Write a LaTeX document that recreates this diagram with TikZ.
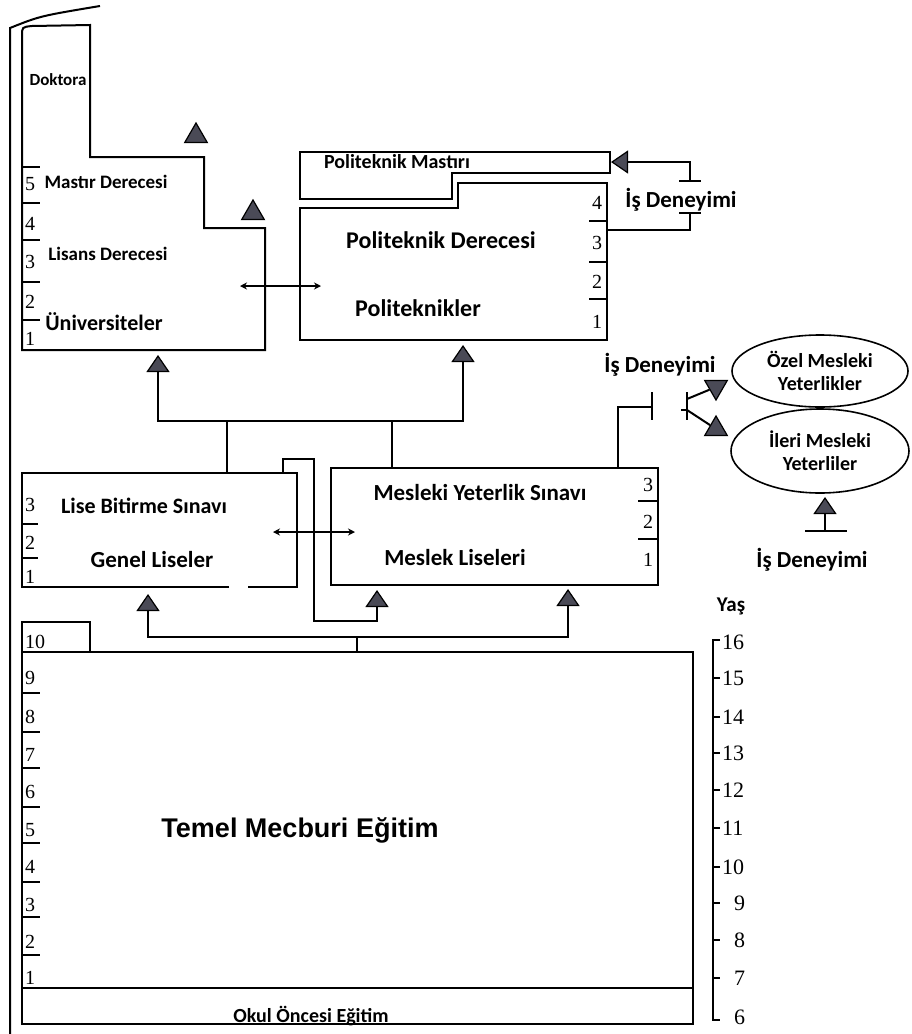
\documentclass[tikz,border=0pt]{standalone}
\usepackage{fontspec}
\setmainfont{Carlito}
\newfontfamily\numfont{Liberation Serif}
\newfontfamily\headfont{Liberation Sans}
\usepackage{tikz}
\usetikzlibrary{positioning, arrows.meta, calc, shapes.geometric}
\definecolor{trigray}{RGB}{74,74,86}
\tikzset{
  wire/.style ={line width=2pt},
  line/.style ={line width=2pt,
                -{Triangle[length=17pt, width=23pt, fill=trigray, line width=1.2pt]}},
  both/.style ={line width=1.6pt,
                {Stealth[length=7pt, width=7pt]}-{Stealth[length=7pt, width=7pt]}},
  tri/.style  ={draw, line width=1.2pt, fill=trigray, regular polygon,
                regular polygon sides=3, minimum size=26pt, inner sep=0pt},
  lbl/.style  ={font=\bfseries\fontsize{23}{25}\selectfont, inner sep=0pt},
  sml/.style  ={font=\bfseries\fontsize{19}{21}\selectfont, inner sep=0pt},
  num/.style  ={font=\numfont\fontsize{20}{21}\selectfont, inner sep=0pt},
  oval/.style ={draw, line width=1.6pt, ellipse, inner sep=0pt, align=center,
                font=\bfseries\fontsize{20}{23}\selectfont}
}

\begin{document}
\begin{tikzpicture}[x=1pt, y=-1pt]
  \useasboundingbox (0,0) rectangle (911,1034);
  \draw[wire] (10,1034) -- (10,28) .. controls (40,16) .. (100,6);

  % universities
  \draw[wire] (22,350) -- (22,36) .. controls (22,27) .. (32,26) -- (90,25)
        -- (90,157) -- (204,157) -- (204,228) -- (265,228) -- (265,350) -- cycle;
  \foreach \y in {167,203,240,282,320} \draw[wire] (22,\y) -- (40,\y);
  \foreach \n/\y in {5/184,4/224,3/262,2/302,1/339}
    \node[num] (u\n) at (30,\y) {\n};
  \node[sml, font=\bfseries\fontsize{17}{19}\selectfont] (dok) at (58,80) {Doktora};
  \node[sml] (mas) at (106,182) {Mastır Derecesi};
  \node[sml] (lis) at (108,254) {Lisans Derecesi};
  \node[lbl, font=\bfseries\fontsize{22}{24}\selectfont] (uni) at (104,322) {Üniversiteler};
  \node[tri] (t1) at (196,136) {};
  \node[tri] (t2) at (253,213) {};

  % polytechnics
  \draw[wire] (300,152) -- (610,152) -- (610,173) -- (452,173) -- (452,199)
        -- (300,199) -- cycle;
  \draw[wire] (300,208) -- (458,208) -- (458,183) -- (607,183) -- (607,340)
        -- (300,340) -- cycle;
  \foreach \y in {221,262,299} \draw[wire] (589,\y) -- (607,\y);
  \foreach \n/\y in {4/203,3/243,2/282,1/322}
    \node[num] (p\n) at (597,\y) {\n};
  \node[sml, font=\bfseries\fontsize{20}{22}\selectfont] (pmas) at (397,162) {Politeknik Mastırı};
  \node[lbl, font=\bfseries\fontsize{24}{26}\selectfont] (pder) at (441,240) {Politeknik Derecesi};
  \node[lbl, font=\bfseries\fontsize{24}{26}\selectfont] (pnik) at (418,308) {Politeknikler};

  \coordinate (uniR) at (240,286);
  \coordinate (polL) at (321,286);
  \draw[both] (uniR) -- (polL);

  \node[lbl] (is1) at (681,200) {İş Deneyimi};
  \coordinate (bar1) at (690,181);
  \coordinate (bar2) at (690,213);
  \coordinate (masR) at (611,162);
  \coordinate (derR) at (607,230);
  \draw[wire] (679,181) -- (701,181);
  \draw[wire] (679,213) -- (701,213);
  \draw[line] (bar1) |- (masR);
  \draw[wire] (bar2) |- (derR);

  % high schools
  \draw[wire] (229,587) -- (22,587) -- (22,473) -- (297,473) -- (297,587) -- (248,587);
  \node[draw, wire, minimum width=327pt, minimum height=117pt, inner sep=0pt]
        (mes) at (494.5,526.5) {};
  \foreach \y in {524,558} \draw[wire] (22,\y) -- (38,\y);
  \foreach \n/\y in {3/505,2/543,1/577}
    \node[num] (g\n) at (30,\y) {\n};
  \foreach \y in {501,539} \draw[wire] (638,\y) -- (658,\y);
  \foreach \n/\y in {3/485,2/522,1/560}
    \node[num] (m\n) at (648,\y) {\n};
  \node[lbl, font=\bfseries\fontsize{22}{24}\selectfont] (lise) at (144,506) {Lise Bitirme Sınavı};
  \node[lbl] (genel) at (152,560) {Genel Liseler};
  \node[lbl] (myet) at (480,493) {Mesleki Yeterlik Sınavı};
  \node[lbl] (mlis) at (455,558) {Meslek Liseleri};

  \coordinate (genR) at (273,532);
  \coordinate (mesL) at (355,532);
  \draw[both] (genR) -- (mesL);

  \coordinate (genT) at (227,473);
  \coordinate (hub1) at (227,421);
  \coordinate (uniB) at (158,355);
  \coordinate (polB) at (463,345);
  \draw[wire] (genT) -- (hub1);
  \draw[wire] (mes.north -| 392,0) -- (392,421);
  \draw[line] (hub1) -| (uniB);
  \draw[line] (hub1) -| (polB);

  \coordinate (loop) at (283,473);
  \coordinate (mesB1) at (377,590);
  \draw[line] (loop) -- (283,459) -- (314,459) -- (314,621) -| (mesB1);

  % compulsory education
  \draw[wire] (22,622) rectangle (90,652);
  \draw[wire] (22,652) -- (693,652) -- (693,1024) -- (22,1024) -- cycle;
  \draw[wire] (22,988) -- (693,988);
  \foreach \y in {693,732,768,807,843,882,917,955} \draw[wire] (22,\y) -- (40,\y);
  \foreach \n/\y in {10/642,9/678,8/717,7/755,6/792,5/830,4/867,3/905,2/942,1/978}
    \node[num, anchor=west] (k\n) at (25,\y) {\n};
  \node[font=\headfont\bfseries\fontsize{27}{29}\selectfont, inner sep=0pt]
        (temel) at (300,830) {Temel Mecburi Eğitim};
  \node[sml, font=\bfseries\fontsize{20}{22}\selectfont] (okul) at (311,1016) {Okul Öncesi Eğitim};

  \coordinate (temT) at (357,652);
  \coordinate (hub2) at (357,637);
  \coordinate (genB) at (148,594);
  \coordinate (mesB2) at (568,589);
  \draw[wire] (temT) -- (hub2);
  \draw[line] (hub2) -| (genB);
  \draw[line] (hub2) -| (mesB2);

  % age scale
  \node[sml, font=\bfseries\fontsize{21}{23}\selectfont] (yas) at (731,606) {Yaş};
  \draw[wire] (720,640) -- (713,640) -- (713,1020) -- (720,1020);
  \foreach \y in {678,717,753,790,828,867,903,940,978} \draw[wire] (713,\y) -- (720,\y);
  \foreach \a/\y in {16/642,15/678,14/717,13/753,12/790,11/828,10/867}
    \node[num, font=\numfont\fontsize{22}{23}\selectfont, anchor=west] (a\a) at (722,\y) {\a};
  \foreach \a/\y in {9/903,8/940,7/978,6/1017}
    \node[num, font=\numfont\fontsize{22}{23}\selectfont, anchor=west] (a\a) at (734,\y) {\a};

  % vocational qualifications
  \node[lbl] (is2) at (660,365) {İş Deneyimi};
  \coordinate (mesT) at (618,468);
  \coordinate (bar3) at (652,407);
  \draw[wire] (mesT) |- (bar3);
  \draw[wire] (652,392) -- (652,420);
  \draw[wire] (687,392) -- (687,420);
  \draw[wire] (681,410) -- (687,410);
  \node[tri, shape border rotate=180] (t3) at (716,387) {};
  \node[tri] (t4) at (716,429) {};
  \draw[wire] (687,399) -- (t3);
  \draw[wire] (687,410) -- (t4);

  \node[oval, minimum width=176pt, minimum height=72pt] (ozel) at (820,371)
        {Özel Mesleki\\Yeterlikler};
  \node[oval, minimum width=178pt, minimum height=84pt] (ileri) at (820,451)
        {İleri Mesleki\\Yeterliler};

  \node[lbl] (is3) at (812,560) {İş Deneyimi};
  \coordinate (bar4) at (825,531);
  \coordinate (ileriB) at (825,497);
  \draw[wire] (805,531) -- (847,531);
  \draw[line] (bar4) -- (ileriB);
\end{tikzpicture}
\end{document}
